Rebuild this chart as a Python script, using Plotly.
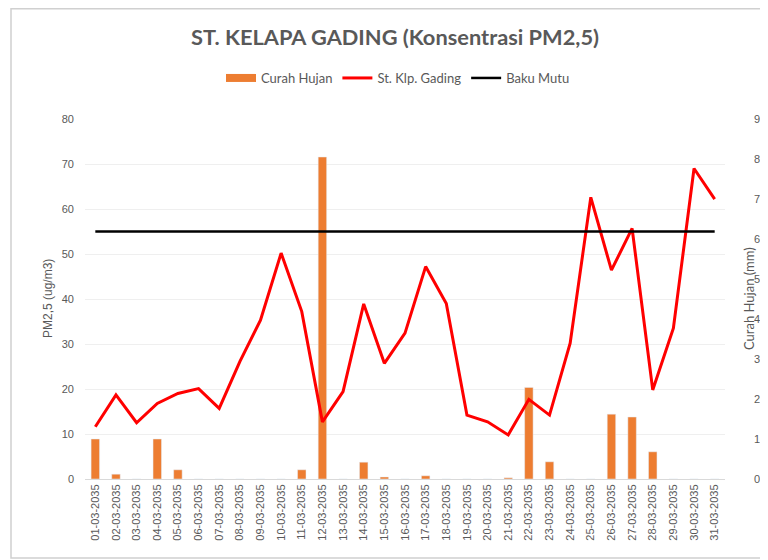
import plotly.graph_objects as go

dates = [f"{d:02d}-03-2035" for d in range(1, 32)]

curah_hujan = [10, 1.2, 0, 10, 2.3, 0, 0, 0, 0, 0, 2.3, 80.5, 0, 4.2, 0.5, 0, 0.8, 0, 0, 0,
               0.3, 22.9, 4.3, 0, 0, 16.2, 15.5, 6.8, 0, 0, 0]

pm25 = [11.6, 18.7, 12.5, 16.8, 19.0, 20.1, 15.7, 26.1, 35.3, 50.2, 37.2, 12.7, 19.4, 38.9, 25.7,
        32.4, 47.2, 39.0, 14.2, 12.7, 9.8, 17.7, 14.2, 30.2, 62.6, 46.4, 55.7, 19.8, 33.5, 69.0, 62.2]

baku_mutu = [55] * 31

left_ticks = [0, 10, 20, 30, 40, 50, 60, 70, 80]
right_ticks = [0, 10, 20, 30, 40, 50, 60, 70, 80, 90]

gray = "#595959"
orange = "#ED7D31"

# figure is placed by the page at an 8px body offset
W, H = 760, 552
L, R, T, B = 77, 717, 111, 471
PW, PH = R - L, B - T

fig = go.Figure()
fig.add_trace(go.Bar(x=dates, y=curah_hujan, name="Curah Hujan", marker_color=orange,
                     yaxis="y", showlegend=False))
fig.add_trace(go.Scatter(x=[None], y=[None], name="Curah Hujan", mode="lines",
                         line=dict(color=orange, width=8), yaxis="y", showlegend=True))
fig.add_trace(go.Scatter(x=dates, y=pm25, name="St. Klp. Gading", mode="lines",
                         line=dict(color="#FF0000", width=3), yaxis="y2"))
fig.add_trace(go.Scatter(x=dates, y=baku_mutu, name="Baku Mutu", mode="lines",
                         line=dict(color="#000000", width=2.5), yaxis="y2"))

fig.update_layout(
    width=W, height=H,
    margin=dict(l=L, r=W - R, t=T, b=H - B),
    paper_bgcolor="white", plot_bgcolor="white",
    title=dict(text="<b>ST. KELAPA GADING (Konsentrasi PM2,5)</b>", x=(395 - 8) / W, xanchor="center",
               y=1 - 29 / H, yanchor="middle", yref="container",
               font=dict(family="Lato", size=21.8, color=gray)),
    legend=dict(orientation="h", x=(398 - 8 - L) / PW, xanchor="center",
                y=(B - 70) / PH, yanchor="middle",
                font=dict(family="Lato", size=13, color=gray), traceorder="normal",
                itemwidth=30, tracegroupgap=0),
    bargap=0.59,
    xaxis=dict(type="category", tickangle=-90, automargin=False,
               tickfont=dict(family="Liberation Sans", size=11, color=gray),
               showgrid=False, showline=True, linecolor="#d9d9d9", linewidth=1, ticks=""),
    yaxis=dict(side="right", range=[0, 90], tickvals=right_ticks, showgrid=False, zeroline=False,
               automargin=False,
               tickfont=dict(family="Liberation Sans", size=11, color=gray),
               ticklabelstandoff=28),
    yaxis2=dict(side="left", overlaying="y", range=[0, 80], tickvals=left_ticks, showgrid=True,
                gridcolor="#efefef", zeroline=False, automargin=False,
                tickfont=dict(family="Liberation Sans", size=11, color=gray),
                ticklabelstandoff=10),
    annotations=[
        dict(text="PM2,5 (ug/m3)", xref="paper", yref="paper", x=(40 - L) / PW, y=0.5,
             xanchor="center", yanchor="middle", textangle=-90, showarrow=False,
             font=dict(family="Liberation Sans", size=12, color=gray)),
        dict(text="Curah Hujan (mm)", xref="paper", yref="paper", x=(741 - L) / PW, y=0.5,
             xanchor="center", yanchor="middle", textangle=-90, showarrow=False,
             font=dict(family="Lato", size=13, color=gray)),
    ],
    shapes=[dict(type="rect", xref="paper", yref="paper",
                 x0=(3 - L) / PW, x1=(800 - L) / PW,
                 y0=(B - 550) / PH, y1=(B - 0.8) / PH,
                 line=dict(color="#d0d0d0", width=1.5), layer="below")],
    showlegend=True,
)

fig.write_html("out.html")
